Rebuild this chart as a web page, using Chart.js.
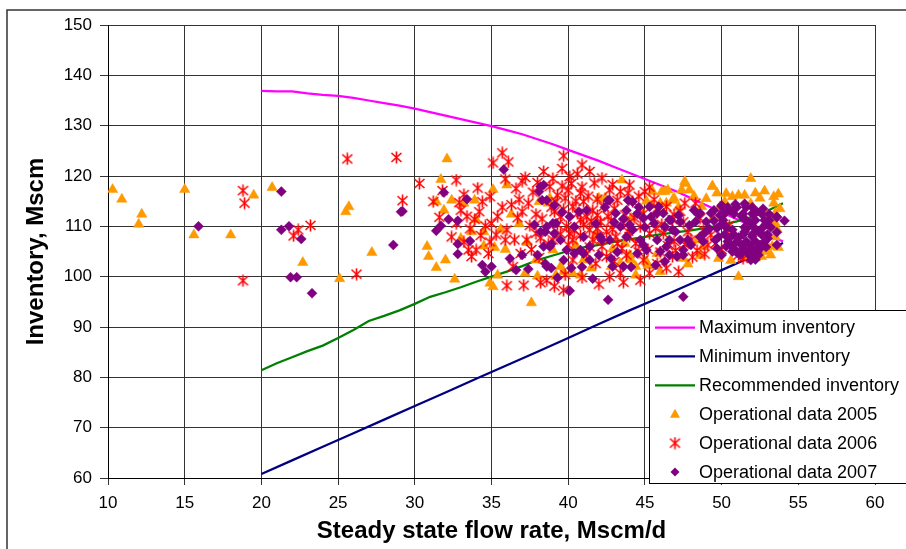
<!DOCTYPE html>
<html>
<head>
<meta charset="utf-8">
<title>Inventory vs steady state flow rate</title>
<script src="https://cdn.jsdelivr.net/npm/chart.js"></script>
<style>
  html, body { margin: 0; padding: 0; background: #fff; }
  #wrap { width: 906px; height: 549px; }
</style>
</head>
<body>
<div id="wrap"><canvas id="inventoryChart" width="906" height="549"></canvas></div>
<script>
// operating envelope curves, [flow, inventory]
var maxInventory = [
  [20,136.9],[21,136.8],[22,136.8],[23,136.4],[24,136.1],[25,135.9],[26,135.5],[27,135.0],
  [28,134.5],[29,134.0],[30,133.4],[31,132.7],[32,132.0],[33,131.3],[34,130.6],[35,129.9],
  [36,129.1],[37,128.3],[38,127.3],[39,126.3],[40,125.2],[41,124.1],[42,123.0],[43,121.8],
  [44,120.6],[45,119.4],[46,118.2],[47,117.0],[48,115.6],[49,114.2],[50,112.8],[51,111.4],
  [52,110.0],[53,108.5],[54,107.0]
];
var minInventory = [
  [20,60.8],[22,63.5],[24,66.2],[26,68.9],[28,71.6],[30,74.3],[32,77.0],[34,79.7],[36,82.4],
  [38,85.1],[40,87.8],[42,90.6],[44,93.3],[46,95.9],[48,98.6],[50,101.3],[52,104.0],[54,106.7]
];
var recInventory = [
  [20,81.4],[21,82.8],[22,84.0],[23,85.2],[24,86.3],[25,87.8],[26,89.4],[27,91.2],[28,92.2],
  [29,93.3],[30,94.6],[31,96.0],[32,96.9],[33,97.9],[34,99.0],[35,100.0],[36,101.0],[37,102.1],
  [38,103.3],[39,104.2],[40,105.1],[41,105.8],[42,106.3],[43,106.9],[44,107.4],[45,107.9],
  [46,108.4],[47,108.8],[48,109.2],[49,109.7],[50,110.3],[51,111.0],[52,111.9],[53,113.1],[54,114.6]
];

// operational records by year, [flow, inventory]
var ops2005 = [
  [10.3,117.3],[10.9,115.4],[12.2,112.4],[12.0,110.4],[15.0,117.3],[15.6,108.3],[18.0,108.3],
  [19.5,116.2],[20.7,117.7],[22.7,102.8],[25.1,99.6],[25.5,112.9],[25.7,113.9],[27.2,104.8],
  [30.8,106.0],[30.9,104.0],[31.4,101.8],[32.0,103.3],[32.6,99.5],[31.7,119.3],[32.1,123.4],
  [31.4,114.9],[31.9,113.2],[32.4,115.2],[33.2,114.6],[33.9,115.2],[35.1,117.3],[36.0,118.2],
  [36.3,112.4],[34.0,111.3],[34.5,108.9],[33.7,108.9],[33.0,107.6],[34.5,106.1],[35.2,105.8],
  [35.6,109.4],[35.9,105.4],[35.4,100.3],[34.9,98.7],[35.1,98.0],[37.2,100.7],[38.0,100.1],
  [37.6,94.8],[37.9,103.3],[38.7,114.6],[38.1,114.9],[39.2,100.0],[36.8,110.5],[37.3,106.8],
  [43.5,119.2],[45.5,116.9],[46.1,116.9],[46.5,117.2],[46.8,115.2],[42.0,115.6],[42.4,115.6],
  [38.8,115.6],[41.5,101.7],[40.8,100.3],[40.3,100.7],[39.7,101.0],[39.2,100.3],[39.5,102.0],
  [41.0,103.3],[43.7,106.6],[44.0,104.3],[44.0,103.6],[43.4,102.6],[45.8,104.6],[42.8,102.0],
  [44.4,100.3],[39.0,105.3],[44.1,111.6],[44.1,109.6],[40.5,106.2],[41.8,108.3],[42.9,105.5],
  [51.9,119.5],[47.6,118.5],[47.9,117.2],[49.4,118.0],[49.7,116.6],[46.9,115.6],[50.7,115.9],
  [51.1,116.2],[51.5,116.2],[52.2,116.6],[52.5,115.6],[53.4,115.9],[53.4,114.6],[53.5,112.6],
  [53.5,110.6],[53.5,107.9],[53.3,106.0],[52.9,105.0],[52.9,106.7],[51.1,100.0],[50.2,114.9],
  [49.9,113.9],[49.8,103.6],[48.8,106.0],[52.9,112.6],[53.2,111.0],[51.9,114.5],[47.4,117.2],
  [48.7,113.9],[49.5,111.9],[53.7,116.4],[53.8,113.5],[53.6,109.4],[53.7,105.8],[53.2,104.3],
  [52.6,104.0],[52.2,103.7],[51.6,103.9],[50.6,103.2],[52.8,117.0],[50.3,116.5],[49.0,115.5],
  [48.2,116.0],[47.2,113.8],[46.4,114.6],[45.1,115.0],[44.7,113.5],[45.2,102.2],[46.0,101.0],
  [47.8,102.5],[48.6,104.2],[50.9,104.8],[47.6,118.9],[49.4,117.9],[46.3,116.9],[44.4,102.0],
  [44.1,103.3],[45.1,103.0],[47.5,103.6],[48.4,107.3],[46.0,114.6],[45.4,114.2]
];
var ops2006 = [
  [18.8,117.1],[18.9,114.6],[18.8,99.2],[22.4,109.3],[22.1,108.1],[23.2,110.2],[25.6,123.4],
  [28.8,123.7],[29.2,115.1],[26.2,100.5],[30.3,118.5],[32.7,119.2],
  [35.7,124.6],[35.1,122.6],[36.1,122.8],[37.2,119.7],[38.4,120.9],[31.8,117.1],[31.2,114.9],
  [33.0,113.2],[33.4,112.0],[33.9,111.4],[34.4,114.9],[34.9,115.9],[35.4,112.0],[36.6,117.5],
  [37.4,114.6],[37.9,112.4],[32.4,107.9],[33.2,106.9],[33.5,105.3],[33.7,104.0],[34.0,105.3],
  [34.8,104.6],[35.3,108.3],[35.9,107.3],[36.0,109.3],[36.5,107.3],[37.3,107.3],[37.9,108.6],
  [36.0,98.2],[37.1,98.3],[38.2,98.8],[39.1,98.1],[34.2,112.9],[32.9,114.7],[34.9,106.9],
  [39.7,124.0],[40.9,122.2],[41.4,120.9],[40.1,119.9],[40.2,118.5],[38.8,117.9],
  [40.0,117.2],[40.8,116.6],[42.7,117.2],[43.4,116.9],[43.9,116.6],[45.0,116.9],[39.2,114.9],
  [40.3,113.9],[41.0,114.9],[41.6,113.2],[43.2,115.2],[44.2,114.9],[39.5,111.9],[40.8,111.3],
  [42.1,110.9],[41.4,109.3],[42.5,108.9],[43.6,110.6],[44.7,109.9],[45.3,108.6],[38.6,109.3],
  [39.0,107.3],[40.3,107.3],[41.6,107.3],[43.2,106.6],[44.4,106.6],[46.2,108.6],[46.8,111.3],
  [46.4,113.9],[39.7,97.3],[42.0,98.5],[42.7,100.0],[43.4,100.7],[44.7,99.3],[45.3,100.7],
  [46.4,101.7],[38.6,99.3],[40.3,103.3],[41.2,104.6],[42.5,104.0],[43.8,104.3],[44.9,103.3],
  [45.8,102.6],[46.8,104.0],
  [47.2,101.0],[47.6,114.6],[48.3,114.6],[47.3,113.0],[46.9,112.3],[47.8,108.9],[48.0,107.3],
  [48.8,109.3],[49.1,106.3],[49.6,106.6],[50.9,107.3],[51.1,104.3],[51.4,103.6],[50.5,110.2],
  [46.9,107.0],[48.4,105.2],
  [39.3,116.2],[39.8,115.6],[40.5,115.0],[41.3,116.0],[41.9,115.4],[42.3,113.9],[39.1,112.9],
  [39.7,113.4],[40.6,112.6],[41.2,111.9],[41.9,112.2],[42.6,112.0],[39.3,110.4],[39.9,110.0],
  [40.4,109.1],[41.0,110.3],[41.9,109.6],[42.9,109.4],[39.5,108.5],[40.0,106.3],[40.8,108.2],
  [41.4,105.9],[42.2,106.0],[43.1,107.9],[38.9,113.8],[38.3,111.5],[38.7,106.5],[40.6,120.4],
  [39.6,121.5],[43.0,113.5],[43.7,112.3],[44.3,111.7],[44.9,112.5],[45.5,111.0],[45.8,113.6],
  [45.6,115.3],[46.1,110.4],[46.5,106.2],[45.2,105.4],[44.6,104.9],[43.5,105.6],[47.5,110.9],
  [48.6,111.6],[49.3,108.3],[48.1,103.9],[47.0,105.2],[50.0,105.4],[50.4,108.8],[48.9,104.5],
  [36.8,115.3],[37.0,112.9],[36.3,114.3],[37.7,116.8],[35.7,113.8],[34.6,110.1],[33.6,109.5],
  [32.7,110.6],[31.6,111.8],[36.9,104.6],[37.6,105.4],[38.1,103.8],[36.4,102.0],[37.0,119.0],
  [38.0,118.7],[39.0,119.5],
  [41.7,118.6],[42.2,119.6],[42.9,118.3],[40.9,117.8],[39.6,118.0],[44.0,118.2],[44.6,116.0],
  [45.3,117.8],[41.5,111.0],[42.8,111.1],[43.9,109.0],[40.1,108.6],[42.0,108.0],[38.2,107.7],
  [37.5,110.2],[36.7,111.7],[35.0,110.6],[34.3,108.2],[44.0,108.0],[45.7,109.6],[46.0,104.9],
  [47.6,106.4],[43.0,103.0],[41.8,102.6],[40.9,99.8],[39.8,100.4],[43.6,98.9],[35.9,119.4],
  [34.1,117.6],[33.2,116.3]
];
var ops2007 = [
  [15.9,110.0],[21.3,116.9],[21.3,109.3],[21.8,110.0],[22.6,107.5],[21.9,99.9],[22.3,99.9],
  [23.3,96.7],[29.1,112.9],[28.6,106.3],
  [35.8,121.3],[29.2,113.0],[31.9,116.7],[33.4,115.4],[31.4,109.1],[31.7,110.1],[32.2,111.4],
  [32.8,111.1],[33.6,107.1],[32.8,106.5],[32.8,104.5],[34.4,102.3],[34.6,101.0],[35.0,102.0],
  [36.2,103.6],[37.0,104.3],[36.6,101.3],[37.4,101.5],[37.8,110.3],[38.2,108.9],[38.1,116.9],
  [38.3,115.2],[38.4,118.2],[38.6,109.9],[38.4,106.0],[38.9,106.5],[38.0,104.3],[38.5,102.6],
  [38.9,101.7],[39.1,108.6],[39.2,110.6],[39.1,114.2],
  [42.6,95.4],[40.1,97.2],[42.6,115.2],[43.9,115.2],[43.8,113.2],[43.1,112.6],[41.2,113.2],
  [40.7,112.9],[40.1,111.9],[38.2,117.9],[38.6,115.2],[39.0,110.6],[38.5,108.9],[39.5,107.3],
  [39.9,105.3],[40.4,104.6],[41.0,104.6],[41.4,103.3],[42.0,104.3],[42.2,107.3],[42.7,107.3],
  [42.8,103.6],[42.9,102.0],[43.6,102.0],[44.5,104.6],[44.7,107.3],[45.1,105.3],[45.8,107.3],
  [45.9,113.9],[46.2,112.6],[46.6,111.3],[46.3,109.9],[46.8,109.3],[46.4,106.0],[45.7,102.3],
  [46.3,103.0],[43.8,107.9],[43.4,109.9],[42.1,107.9],[41.0,107.9],[40.8,105.3],[41.4,106.0],
  [38.8,106.0],[38.6,102.0],[39.7,103.3],[40.2,101.7],
  [43.0,110.8],[44.0,110.3],[44.5,112.5],[43.2,104.9],[44.1,101.9],[45.0,109.8],[45.4,111.9],
  [44.6,113.8],[41.8,110.5],[42.4,113.8],[40.4,109.9],[39.6,112.8],[40.9,101.9],[39.3,99.8],
  [41.6,99.6],[44.9,111.6],[45.6,110.6],[44.2,109.3],[43.6,111.5],[46.0,105.0],[48.9,108.7],
  [48.3,110.9],[49.7,105.6],[44.9,106.3],
  [54.1,111.1],[53.6,111.8],[53.6,108.8],[53.6,106.3],[47.5,96.0],[50.0,114.0],[49.3,112.6],
  [48.2,113.2],[48.5,112.3],[47.2,112.2],[46.7,111.2],[49.5,111.1],[47.0,108.9],[47.9,110.2],
  [49.2,109.5],[47.3,107.3],[48.0,106.3],[46.6,104.3],[47.5,104.3],[48.8,107.0],[49.6,107.3],
  [50.0,104.3],[50.6,106.3],[51.9,103.3],[51.8,104.6],
  [42.7,115.2],[44.2,114.9],[45.3,113.9],[45.8,112.6],[47.3,110.9],[47.8,107.3],[46.6,107.3],
  [47.1,104.0],[47.5,105.3],[48.6,107.9],[49.0,110.9],[48.6,112.6],[49.5,113.2],[50.0,114.2],
  [51.9,104.0],[52.3,105.3],[53.6,111.9],
  // dense block around 50-53 Mscm/d
  [50.4,113.8],[51.0,113.8],[51.6,113.8],[52.0,113.8],
  [50.2,112.5],[50.8,112.5],[51.4,112.5],[52.0,112.5],[52.6,112.5],
  [50.1,111.2],[51.6,111.2],[52.2,111.2],[52.8,111.2],[53.1,111.2],
  [50.3,109.8],[51.5,109.8],[52.1,109.8],[52.7,109.8],[53.2,109.8],
  [50.2,108.4],[50.8,108.4],[51.4,108.4],[52.0,108.4],[52.6,108.4],[53.0,108.4],
  [50.4,107.0],[51.0,107.0],[51.6,107.0],[52.2,107.0],[52.8,107.0],
  [50.8,105.6],[51.4,105.6],[52.0,105.6],[52.5,105.6],
  [51.2,104.3],[51.9,104.3],[52.4,104.3],[52.2,103.4],
  [50.6,113.1],[51.3,112.0],[51.9,110.7],[52.4,109.0],[51.1,107.8],[51.8,106.4],[52.3,112.9],
  [50.7,105.0],[49.7,109.6],[49.8,107.9],
  [50.7,109.3],[50.5,107.7],[51.3,106.3],[50.3,106.0],[52.9,110.4],[53.0,107.6],[52.5,106.3],
  [52.9,105.9],[51.6,105.0],[51.0,104.8],[52.7,113.5],[50.9,114.4],[51.5,114.5],[53.1,112.4],
  [52.3,104.8],[51.5,108.9],[52.0,108.0],[51.6,109.5],[50.2,113.4],[49.9,112.2],[50.0,110.4]
];

var FONT = "'Liberation Sans', Arial, Helvetica, sans-serif";

function toPoints(pairs) {
  return pairs.map(function (p) { return {x: p[0], y: p[1]}; });
}

// Excel style asterisk marker: an X with a vertical stroke through it
function makeAsterisk(color) {
  var c = document.createElement('canvas');
  c.width = 13;
  c.height = 13;
  var g = c.getContext('2d');
  g.strokeStyle = color;
  g.lineWidth = 1.6;
  g.beginPath();
  g.moveTo(1.5, 2); g.lineTo(11.5, 11);
  g.moveTo(11.5, 2); g.lineTo(1.5, 11);
  g.moveTo(6.5, 0.5); g.lineTo(6.5, 12.5);
  g.stroke();
  return c;
}
var asterisk = makeAsterisk('#ff0000');

var seriesStyle = [
  {label: 'Maximum inventory', kind: 'line', color: '#ff00ff'},
  {label: 'Minimum inventory', kind: 'line', color: '#000080'},
  {label: 'Recommended inventory', kind: 'line', color: '#008000'},
  {label: 'Operational data 2005', kind: 'triangle', color: '#ff9900'},
  {label: 'Operational data 2006', kind: 'asterisk', color: '#ff0000'},
  {label: 'Operational data 2007', kind: 'diamond', color: '#800080'}
];

// frame around the whole chart and the boxed legend sitting over the plot
var decorations = {
  id: 'decorations',
  beforeDraw: function (chart) {
    var ctx = chart.ctx;
    ctx.save();
    ctx.strokeStyle = '#333';
    ctx.lineWidth = 1.5;
    ctx.beginPath();
    ctx.moveTo(7, 560);
    ctx.lineTo(7, 10);
    ctx.lineTo(910, 10);
    ctx.stroke();
    ctx.restore();
  },
  afterDraw: function (chart) {
    var ctx = chart.ctx;
    var bx = 649.5, by = 310.5, bw = 300, bh = 173;
    ctx.save();
    ctx.fillStyle = '#fff';
    ctx.fillRect(bx, by, bw, bh);
    ctx.strokeStyle = '#000';
    ctx.lineWidth = 1;
    ctx.strokeRect(bx, by, bw, bh);

    ctx.font = '18px ' + FONT;
    ctx.textBaseline = 'middle';
    ctx.textAlign = 'left';
    seriesStyle.forEach(function (s, i) {
      var y = 327.5 + i * 28.9;
      var mx = 675;
      if (s.kind === 'line') {
        ctx.strokeStyle = s.color;
        ctx.lineWidth = 2.25;
        ctx.beginPath();
        ctx.moveTo(655, y);
        ctx.lineTo(695, y);
        ctx.stroke();
      } else if (s.kind === 'triangle') {
        ctx.fillStyle = s.color;
        ctx.beginPath();
        ctx.moveTo(mx, y - 5.5);
        ctx.lineTo(mx + 5, y + 3.5);
        ctx.lineTo(mx - 5, y + 3.5);
        ctx.closePath();
        ctx.fill();
      } else if (s.kind === 'asterisk') {
        ctx.drawImage(asterisk, mx - 6.5, y - 6.5);
      } else {
        ctx.fillStyle = s.color;
        ctx.beginPath();
        ctx.moveTo(mx, y - 4.5);
        ctx.lineTo(mx + 4.5, y);
        ctx.lineTo(mx, y + 4.5);
        ctx.lineTo(mx - 4.5, y);
        ctx.closePath();
        ctx.fill();
      }
      ctx.fillStyle = '#000';
      ctx.fillText(s.label, 699, y + 1);
    });
    ctx.restore();
  }
};

function lineSet(idx, data, order) {
  return {
    label: seriesStyle[idx].label,
    data: toPoints(data),
    showLine: true,
    borderColor: seriesStyle[idx].color,
    backgroundColor: seriesStyle[idx].color,
    borderWidth: 2.25,
    pointRadius: 0,
    tension: 0,
    order: order
  };
}

var ctx = document.getElementById('inventoryChart').getContext('2d');

window.inventoryChart = new Chart(ctx, {
  type: 'scatter',
  data: {
    datasets: [
      lineSet(0, maxInventory, 6),
      lineSet(1, minInventory, 5),
      lineSet(2, recInventory, 4),
      {
        label: seriesStyle[3].label,
        data: toPoints(ops2005),
        pointStyle: 'triangle',
        pointRadius: 6,
        pointBorderWidth: 0.5,
        backgroundColor: '#ff9900',
        borderColor: '#ff9900',
        order: 3
      },
      {
        label: seriesStyle[4].label,
        data: toPoints(ops2006),
        pointStyle: asterisk,
        pointRadius: 6.5,
        backgroundColor: '#ff0000',
        borderColor: '#ff0000',
        order: 2
      },
      {
        label: seriesStyle[5].label,
        data: toPoints(ops2007),
        pointStyle: 'rectRot',
        pointRadius: 5,
        pointBorderWidth: 0.5,
        backgroundColor: '#800080',
        borderColor: '#800080',
        order: 1
      }
    ]
  },
  options: {
    responsive: false,
    animation: false,
    events: [],
    layout: {
      padding: {top: 25, right: 31, bottom: 0, left: 0}
    },
    plugins: {
      legend: {display: false},
      tooltip: {enabled: false}
    },
    scales: {
      x: {
        type: 'linear',
        min: 10,
        max: 60,
        afterFit: function (scale) { scale.height = 71; },
        ticks: {
          stepSize: 5,
          padding: 8,
          color: '#000',
          font: {family: FONT, size: 17}
        },
        grid: {color: '#333', lineWidth: 1, tickLength: 7},
        border: {color: '#000', width: 1},
        title: {
          display: true,
          text: 'Steady state flow rate, Mscm/d',
          color: '#000',
          font: {family: FONT, size: 24, weight: 'bold'},
          padding: {top: 0, bottom: 3}
        }
      },
      y: {
        min: 60,
        max: 150,
        afterFit: function (scale) { scale.width = 108; },
        ticks: {
          stepSize: 10,
          padding: 8,
          color: '#000',
          font: {family: FONT, size: 17}
        },
        grid: {color: '#333', lineWidth: 1, tickLength: 8},
        border: {color: '#000', width: 1},
        title: {
          display: true,
          text: 'Inventory, Mscm',
          color: '#000',
          font: {family: FONT, size: 24, weight: 'bold'},
          padding: {top: 22, bottom: 0}
        }
      }
    }
  },
  plugins: [decorations]
});
</script>
</body>
</html>
